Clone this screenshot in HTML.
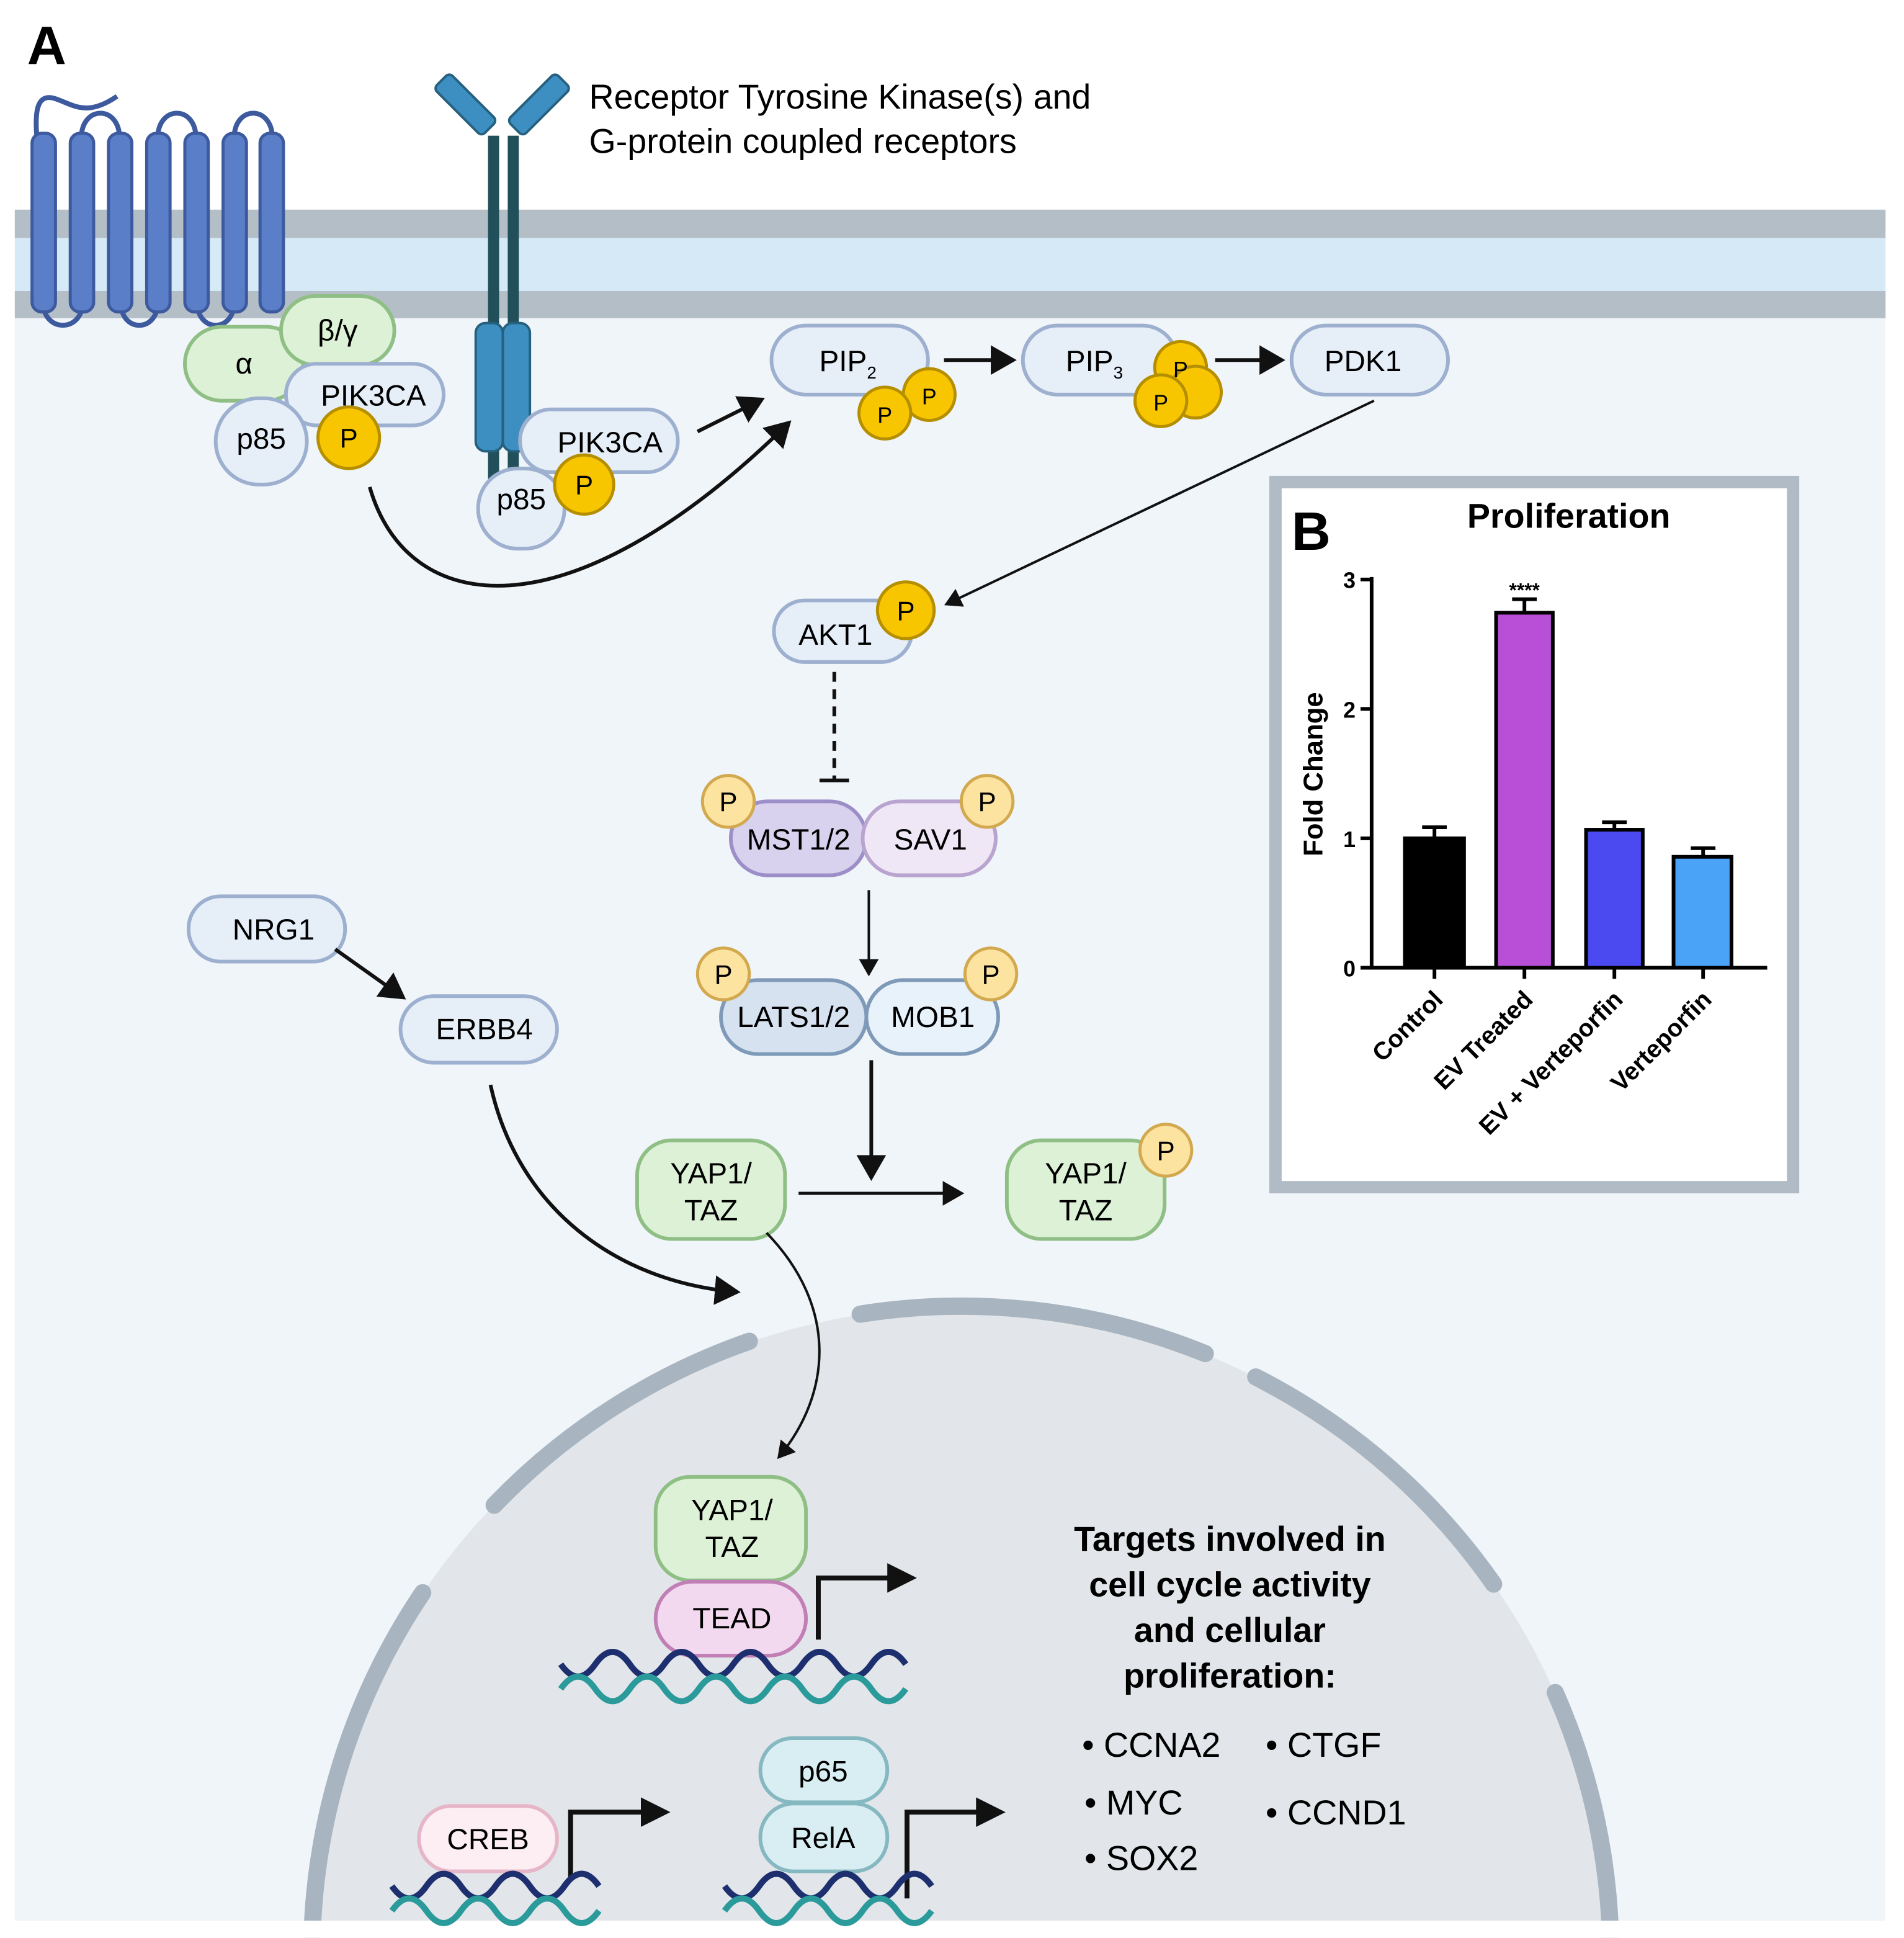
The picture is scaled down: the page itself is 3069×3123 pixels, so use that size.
<!DOCTYPE html>
<html><head><meta charset="utf-8"><style>html,body{margin:0;padding:0;background:#fff;overflow:hidden;width:3069px;height:3123px}svg{display:block}</style></head><body>
<svg width="3069" height="3123" viewBox="0 0 1545 1572" xmlns="http://www.w3.org/2000/svg" font-family="Liberation Sans, sans-serif">
<defs>
<marker id="ah" markerWidth="8" markerHeight="8" refX="6" refY="4" orient="auto" markerUnits="strokeWidth"><path d="M0,0 L7,4 L0,8 z" fill="#111"/></marker>
<marker id="ah2" markerWidth="6" markerHeight="6" refX="5" refY="3" orient="auto" markerUnits="strokeWidth"><path d="M0,0 L6,3 L0,6 z" fill="#111"/></marker>
</defs>
<rect width="1545" height="1572" fill="#fff"/>
<rect x="12" y="258" width="1518" height="1300" fill="#f0f5fa"/>
<rect x="12" y="170" width="1518" height="88" fill="#d6e9f7"/>
<rect x="12" y="170" width="1518" height="23" fill="#b3bec7"/>
<rect x="12" y="236" width="1518" height="22" fill="#b3bec7"/>
<!-- nucleus -->
<path d="M253,1587 A527,527 0 0 1 1307,1587 Z" fill="#e2e6ea"/>
<g fill="none" stroke="#a8b4bf" stroke-width="14" stroke-linecap="round">
<path d="M253,1587 A527,527 0 0 1 343,1292"/>
<path d="M401,1221 A527,527 0 0 1 608,1088"/>
<path d="M698,1066 A527,527 0 0 1 978,1098"/>
<path d="M1019,1117 A527,527 0 0 1 1212,1285"/>
<path d="M1262,1373 A527,527 0 0 1 1307,1587"/>
</g>
<rect x="0" y="1558" width="1545" height="14" fill="#fff"/>
<text x="22" y="52" font-size="44" font-weight="bold">A</text>
<!-- GPCR -->
<g fill="none" stroke="#3d5a9e" stroke-width="4">
<path d="M30,112 C28,90 30,75 45,80 C60,85 70,95 95,78"/>
<path d="M66,112 C66,85 97,85 97,112 M128,112 C128,85 159,85 159,112 M190,112 C190,85 221,85 221,112"/>
<path d="M35,245 C35,270 67,270 67,245 M98,245 C98,270 128,270 128,245 M160,245 C160,270 190,270 190,245"/>
</g>
<g fill="#5b7ec9" stroke="#3d5a9e" stroke-width="2.5">
<rect x="26" y="108" width="19" height="145" rx="8"/><rect x="57" y="108" width="19" height="145" rx="8"/>
<rect x="88" y="108" width="19" height="145" rx="8"/><rect x="119" y="108" width="19" height="145" rx="8"/>
<rect x="150" y="108" width="19" height="145" rx="8"/><rect x="181" y="108" width="19" height="145" rx="8"/>
<rect x="211" y="108" width="19" height="145" rx="8"/>
</g>
<g fill="#3e8fc1" stroke="#25607f" stroke-width="2">
<rect x="350" y="76" width="55" height="18" rx="4" transform="rotate(45 378 85)"/>
<rect x="410" y="76" width="55" height="18" rx="4" transform="rotate(-45 437 85)"/>
</g>
<rect x="396" y="110" width="9" height="280" fill="#214f5a"/>
<rect x="412" y="110" width="9" height="280" fill="#214f5a"/>
<rect x="386" y="262" width="22" height="104" rx="8" fill="#3e8fc1" stroke="#25607f" stroke-width="2"/>
<rect x="408" y="262" width="22" height="104" rx="8" fill="#3e8fc1" stroke="#25607f" stroke-width="2"/>
<text x="478" y="88" font-size="28">Receptor Tyrosine Kinase(s) and</text>
<text x="478" y="124" font-size="28">G-protein coupled receptors</text>
<g stroke-width="3" font-size="24" text-anchor="middle">
<rect x="150" y="265" width="96" height="60" rx="30" fill="#dcf1d6" stroke="#8fbf85"/><text x="198" y="303">α</text>
<rect x="228" y="240" width="92" height="56" rx="28" fill="#dcf1d6" stroke="#8fbf85"/><text x="274" y="276">β/γ</text>
<rect x="232" y="295" width="128" height="50" rx="25" fill="#e6eef8" stroke="#9db0cf"/><text x="303" y="329">PIK3CA</text>
<rect x="175" y="323" width="74" height="70" rx="35" fill="#e6eef8" stroke="#9db0cf"/><text x="212" y="364">p85</text>
<rect x="422" y="332" width="128" height="51" rx="25" fill="#e6eef8" stroke="#9db0cf"/><text x="495" y="367">PIK3CA</text>
<rect x="388" y="380" width="70" height="65" rx="32" fill="#e6eef8" stroke="#9db0cf"/><text x="423" y="413">p85</text>
<rect x="626" y="264" width="127" height="56" rx="28" fill="#e6eef8" stroke="#9db0cf"/><text x="688" y="301">PIP<tspan font-size="14" dy="6">2</tspan></text>
<rect x="830" y="264" width="125" height="56" rx="28" fill="#e6eef8" stroke="#9db0cf"/><text x="888" y="301">PIP<tspan font-size="14" dy="6">3</tspan></text>
<rect x="1048" y="264" width="127" height="56" rx="28" fill="#e6eef8" stroke="#9db0cf"/><text x="1106" y="301">PDK1</text>
<rect x="628" y="487" width="112" height="50" rx="25" fill="#e6eef8" stroke="#9db0cf"/><text x="678" y="523">AKT1</text>
<rect x="593" y="650" width="110" height="60" rx="30" fill="#d9d2ee" stroke="#9c8fc8"/><text x="648" y="689">MST1/2</text>
<rect x="700" y="650" width="108" height="60" rx="30" fill="#efe6f6" stroke="#b9a3cf"/><text x="755" y="689">SAV1</text>
<rect x="585" y="795" width="118" height="60" rx="30" fill="#d6e2f0" stroke="#7f9ab8"/><text x="644" y="833">LATS1/2</text>
<rect x="703" y="795" width="107" height="60" rx="30" fill="#e8f2fa" stroke="#7f9ab8"/><text x="757" y="833">MOB1</text>
<rect x="153" y="727" width="127" height="53" rx="26" fill="#e6eef8" stroke="#9db0cf"/><text x="222" y="762">NRG1</text>
<rect x="325" y="808" width="127" height="54" rx="27" fill="#e6eef8" stroke="#9db0cf"/><text x="393" y="843">ERBB4</text>
<rect x="517" y="925" width="120" height="80" rx="28" fill="#dcf1d6" stroke="#8fbf85"/><text x="577" y="960">YAP1/</text><text x="577" y="990">TAZ</text>
<rect x="817" y="925" width="128" height="80" rx="28" fill="#dcf1d6" stroke="#8fbf85"/><text x="881" y="960">YAP1/</text><text x="881" y="990">TAZ</text>
<rect x="532" y="1198" width="122" height="84" rx="28" fill="#dcf1d6" stroke="#8fbf85"/><text x="594" y="1233">YAP1/</text><text x="594" y="1263">TAZ</text>
<rect x="532" y="1283" width="122" height="60" rx="30" fill="#f3d9ef" stroke="#c07fb5"/><text x="594" y="1321">TEAD</text>
<rect x="340" y="1465" width="112" height="53" rx="26" fill="#fdeef3" stroke="#e6b6c8"/><text x="396" y="1500">CREB</text>
<rect x="617" y="1410" width="103" height="52" rx="26" fill="#d9eef2" stroke="#86b8c2"/><text x="668" y="1445">p65</text>
<rect x="617" y="1463" width="103" height="55" rx="27" fill="#d9eef2" stroke="#86b8c2"/><text x="668" y="1499">RelA</text>
</g>
<g fill="#f7c600" stroke="#b58f00" stroke-width="2.5">
<circle cx="283" cy="355" r="25"/><circle cx="474" cy="393" r="24"/>
<circle cx="754" cy="320" r="21"/><circle cx="718" cy="335" r="21"/>
<circle cx="958" cy="298" r="21"/><circle cx="970" cy="318" r="21"/><circle cx="942" cy="325" r="21"/>
<circle cx="735" cy="495" r="23"/>
</g>
<g fill="#fde3a0" stroke="#d2a94f" stroke-width="2.5">
<circle cx="591" cy="650" r="21"/><circle cx="801" cy="650" r="21"/>
<circle cx="587" cy="790" r="21"/><circle cx="804" cy="790" r="21"/>
<circle cx="946" cy="933" r="21"/>
</g>
<g font-size="22" text-anchor="middle">
<text x="283" y="363">P</text><text x="474" y="401">P</text><text x="754" y="328" font-size="18">P</text><text x="718" y="343" font-size="18">P</text>
<text x="958" y="306" font-size="18">P</text><text x="942" y="333" font-size="18">P</text><text x="735" y="503">P</text>
<text x="591" y="658">P</text><text x="801" y="658">P</text><text x="587" y="798">P</text><text x="804" y="798">P</text><text x="946" y="941">P</text>
</g>
<g fill="none" stroke="#111" stroke-width="3">
<line x1="566" y1="350" x2="618" y2="324" marker-end="url(#ah)"/>
<path d="M300,395 C330,500 460,520 640,343" marker-end="url(#ah)"/>
<line x1="766" y1="292" x2="822" y2="292" marker-end="url(#ah)"/>
<line x1="986" y1="292" x2="1040" y2="292" marker-end="url(#ah)"/>
<line x1="1115" y1="325" x2="768" y2="490" stroke-width="2" marker-end="url(#ah)"/>
<line x1="677" y1="545" x2="677" y2="632" stroke-dasharray="8 6"/>
<line x1="665" y1="633" x2="689" y2="633"/>
<line x1="705" y1="722" x2="705" y2="790" stroke-width="2" marker-end="url(#ah)"/>
<line x1="707" y1="860" x2="707" y2="955" marker-end="url(#ah)"/>
<line x1="648" y1="968" x2="780" y2="968" stroke-width="2.5" marker-end="url(#ah)"/>
<line x1="272" y1="770" x2="327" y2="809" marker-end="url(#ah)"/>
<path d="M398,880 C420,980 500,1040 598,1048" marker-end="url(#ah)"/>
<path d="M622,1000 C680,1060 675,1130 632,1182" stroke-width="2" marker-end="url(#ah)"/>
<path d="M664,1330 V1280 H740" stroke-width="4" marker-end="url(#ah2)"/>
<path d="M463,1525 V1470 H540" stroke-width="4" marker-end="url(#ah2)"/>
<path d="M736,1540 V1470 H812" stroke-width="4" marker-end="url(#ah2)"/>
</g>
<g fill="none" stroke-width="5">
<path d="M455,1350 q14,20 28,0 t28,0 t28,0 t28,0 t28,0 t28,0 t28,0 t28,0 t28,0 t28,0" stroke="#1d2f6e"/>
<path d="M455,1370 q14,-20 28,0 t28,0 t28,0 t28,0 t28,0 t28,0 t28,0 t28,0 t28,0 t28,0" stroke="#2a9a9a"/>
<path d="M318,1530 q14,20 28,0 t28,0 t28,0 t28,0 t28,0 t28,0" stroke="#1d2f6e"/>
<path d="M318,1550 q14,-20 28,0 t28,0 t28,0 t28,0 t28,0 t28,0" stroke="#2a9a9a"/>
<path d="M588,1530 q14,20 28,0 t28,0 t28,0 t28,0 t28,0 t28,0" stroke="#1d2f6e"/>
<path d="M588,1550 q14,-20 28,0 t28,0 t28,0 t28,0 t28,0 t28,0" stroke="#2a9a9a"/>
</g>
<g font-size="28" font-weight="bold" text-anchor="middle">
<text x="998" y="1258">Targets involved in</text><text x="998" y="1295">cell cycle activity</text>
<text x="998" y="1332">and cellular</text><text x="998" y="1369">proliferation:</text>
</g>
<g font-size="28">
<text x="878" y="1425">• CCNA2</text><text x="880" y="1472">• MYC</text><text x="880" y="1517">• SOX2</text>
<text x="1027" y="1425">• CTGF</text><text x="1027" y="1480">• CCND1</text>
</g>
<rect x="1035" y="391" width="420" height="572" fill="#fff" stroke="#b0bbc5" stroke-width="10"/>
<text x="1048" y="446" font-size="44" font-weight="bold">B</text>
<text x="1273" y="428" font-size="28" font-weight="bold" text-anchor="middle">Proliferation</text>
<g stroke="#000" stroke-width="3">
<line x1="1113" y1="468" x2="1113" y2="786"/><line x1="1112" y1="785" x2="1434" y2="785"/>
<line x1="1104" y1="470" x2="1113" y2="470"/><line x1="1104" y1="575" x2="1113" y2="575"/><line x1="1104" y1="680" x2="1113" y2="680"/><line x1="1104" y1="785" x2="1113" y2="785"/>
<line x1="1164" y1="785" x2="1164" y2="794"/><line x1="1237" y1="785" x2="1237" y2="794"/><line x1="1310" y1="785" x2="1310" y2="794"/><line x1="1382" y1="785" x2="1382" y2="794"/>
<rect x="1140" y="680" width="48" height="105" fill="#000"/>
<rect x="1214" y="497" width="46" height="288" fill="#b84fd6"/>
<rect x="1287" y="673" width="46" height="112" fill="#4a4af0"/>
<rect x="1358" y="695" width="47" height="90" fill="#4ba3f7"/>
<path d="M1164,680 V671 M1154,671 H1174 M1237,497 V486 M1227,486 H1247 M1310,673 V667 M1300,667 H1320 M1382,695 V688 M1372,688 H1392" fill="none"/>
</g>
<g font-size="18" font-weight="bold" text-anchor="end">
<text x="1100" y="477">3</text><text x="1100" y="582">2</text><text x="1100" y="687">1</text><text x="1100" y="792">0</text>
</g>
<text x="1237" y="484" font-size="16" font-weight="bold" text-anchor="middle">****</text>
<text transform="translate(1073,628) rotate(-90)" font-size="22" font-weight="bold" text-anchor="middle">Fold Change</text>
<g font-size="20" font-weight="bold" text-anchor="end">
<text transform="translate(1172,812) rotate(-45)">Control</text>
<text transform="translate(1245,812) rotate(-45)">EV Treated</text>
<text transform="translate(1318,812) rotate(-45)">EV + Verteporfin</text>
<text transform="translate(1390,812) rotate(-45)">Verteporfin</text>
</g>
</svg>
</body></html>
